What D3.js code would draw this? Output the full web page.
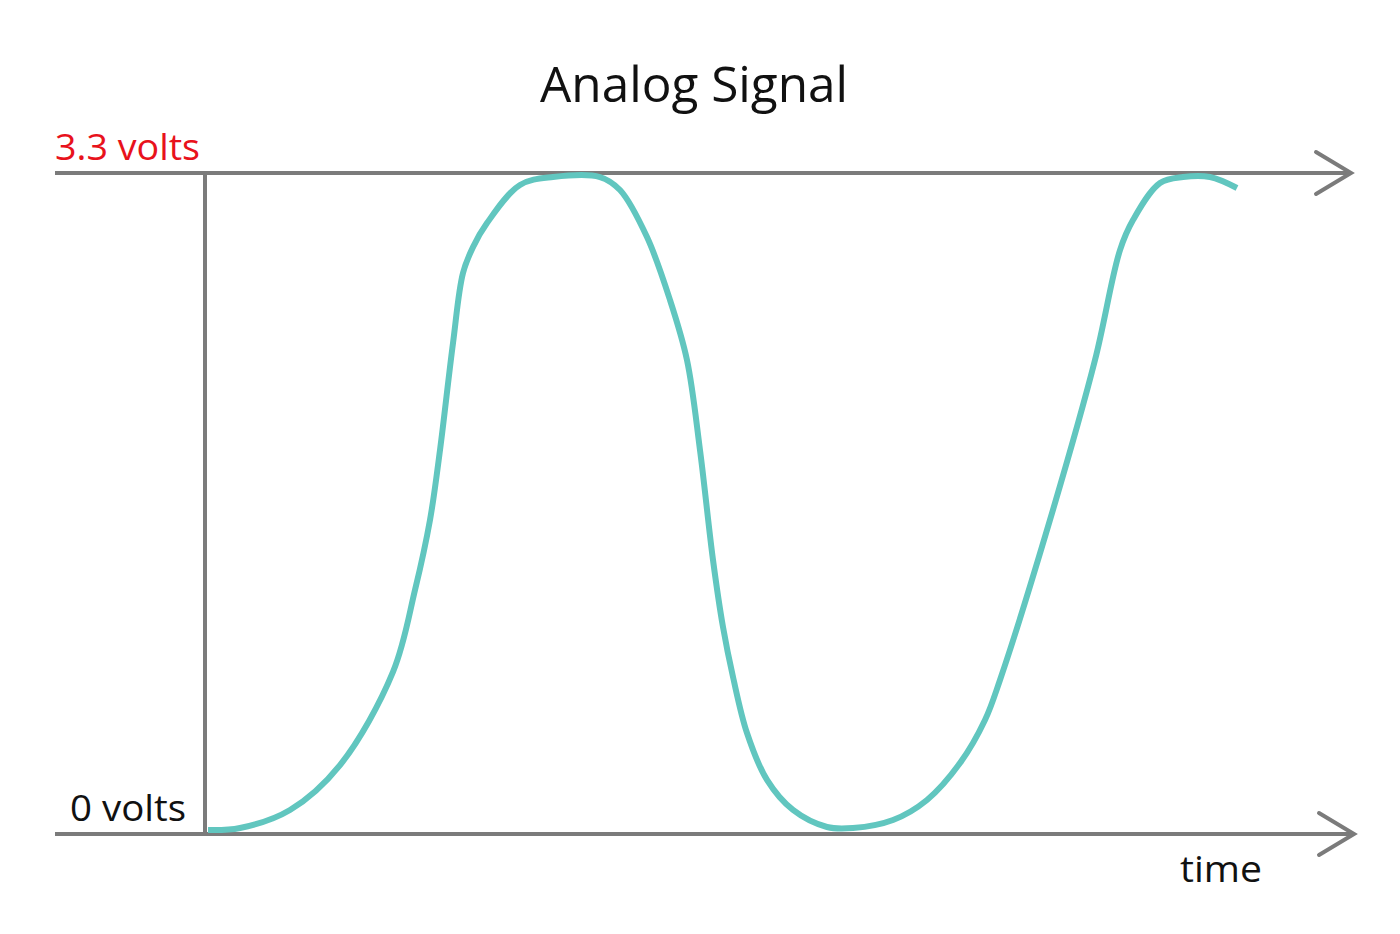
<!DOCTYPE html>
<html><head><meta charset="utf-8">
<script src="https://cdn.jsdelivr.net/npm/d3@7"></script>
<style>body{margin:0;background:#fff}svg{display:block}</style>
</head><body>
<script>
const title = "Analog Signal";
const yLabels = ["0 volts", "3.3 volts"];
const yLevels = [0, 3.3];
const xLabel = "time";
const timeValues = [0.3,3.5,8.5,13.5,18.8,21.0,22.5,23.5,24.8,25.8,26.8,28.2,31.5,34.8,39.5,41.5,44.2,46.5,48.2,49.5,50.8,51.8,52.8,54.2,56.2,58.8,62.2,64.8,68.8,72.2,75.5,78.0,79.5,84.5,89.0,91.5,92.8,95.5,97.8,100.5,103.2];
const voltValues = [0.02,0.03,0.12,0.344,0.809,1.218,1.568,1.917,2.451,2.801,2.93,3.05,3.24,3.28,3.28,3.215,2.98,2.666,2.366,1.917,1.368,1.033,0.784,0.504,0.27,0.12,0.035,0.03,0.07,0.17,0.354,0.569,0.769,1.568,2.366,2.915,3.065,3.25,3.28,3.28,3.225];

const W = 1400, H = 934;
const svg = d3.select("body").append("svg").attr("width", W).attr("height", H);
const x = d3.scaleLinear().domain([0, 115]).range([205, 1355]);
const y = d3.scaleLinear().domain([0, 3.3]).range([834, 173]);
const gray = "#7b7b7b", teal = "#61c6bf";
const font = "'Open Sans', 'Noto Sans', sans-serif";

// horizontal level lines with arrowheads
yLevels.forEach((v, i) => {
  const yy = y(v);
  const xEnd = i === 0 ? 1354 : 1351;
  svg.append("line").attr("x1", 55).attr("x2", xEnd).attr("y1", yy).attr("y2", yy)
    .attr("stroke", gray).attr("stroke-width", 4);
  svg.append("path")
    .attr("d", `M${xEnd-35},${yy-21} L${xEnd},${yy} L${xEnd-35},${yy+21}`)
    .attr("fill", "none").attr("stroke", gray).attr("stroke-width", 4)
    .attr("stroke-linecap", "round").attr("stroke-linejoin", "miter");
});
// vertical axis
svg.append("line").attr("x1", x(0)).attr("x2", x(0)).attr("y1", y(3.3)).attr("y2", y(0))
  .attr("stroke", gray).attr("stroke-width", 4);

// signal
const pts = timeValues.map((t, i) => [t, voltValues[i]]);
svg.append("path").datum(pts)
  .attr("d", d3.line().x(d => x(d[0])).y(d => y(d[1])).curve(d3.curveCatmullRom.alpha(0.5)))
  .attr("fill", "none").attr("stroke", teal).attr("stroke-width", 6).attr("stroke-linecap", "butt");

// texts
svg.append("text").attr("x", 694).attr("y", 102).attr("text-anchor", "middle")
  .attr("font-family", font).attr("font-size", 50).attr("fill", "#111")
  .attr("textLength", 308).attr("lengthAdjust", "spacingAndGlyphs").text(title);
svg.append("text").attr("x", 55).attr("y", 160)
  .attr("font-family", font).attr("font-size", 37).attr("fill", "#e8121c")
  .attr("textLength", 145).attr("lengthAdjust", "spacingAndGlyphs").text(yLabels[1]);
svg.append("text").attr("x", 70).attr("y", 821)
  .attr("font-family", font).attr("font-size", 37).attr("fill", "#111")
  .attr("textLength", 116).attr("lengthAdjust", "spacingAndGlyphs").text(yLabels[0]);
svg.append("text").attr("x", 1180).attr("y", 882)
  .attr("font-family", font).attr("font-size", 37).attr("fill", "#111")
  .attr("textLength", 82).attr("lengthAdjust", "spacingAndGlyphs").text(xLabel);
</script>
</body></html>
